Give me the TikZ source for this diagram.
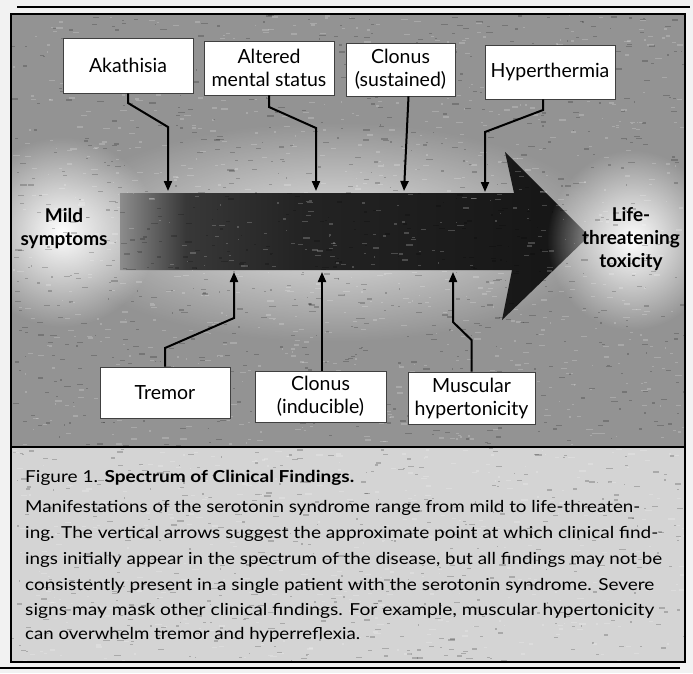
\documentclass[tikz,border=0pt]{standalone}
\usepackage{graphicx}
\usepackage{fontspec}
\setmainfont{Lato}
\usetikzlibrary{arrows.meta,fadings,shadings}
\definecolor{pagebg}{HTML}{F2F2F2}
\definecolor{panelgray}{HTML}{939393}
\definecolor{capgray}{HTML}{D4D4D4}
\tikzfading[name=myglow, inner color=transparent!0, outer color=transparent!100]
\pgfdeclarehorizontalshading{bigarrowshade}{100bp}{color(0bp)=(black!45); color(25bp)=(black!45); color(32bp)=(black!78); color(44bp)=(black!86); color(75bp)=(black!92); color(100bp)=(black!92)}
\newcommand{\capfit}[2]{\resizebox{#1}{\height}{#2}}
\begin{document}
\begin{tikzpicture}[x=1pt,y=-1pt,
  lbl/.style={draw=black!75, line width=0.7pt, fill=white, align=center, inner sep=0pt,
    font=\fontsize{19.5}{23}\selectfont},
  conn/.style={line width=2pt, -{Triangle[length=10pt,width=8pt]}},
  endlbl/.style={align=center, font=\bfseries\fontsize{19}{23}\selectfont},
  capline/.style={anchor=base west, inner sep=0pt, font=\fontsize{16.5}{20}\selectfont},
  glow/.style={fill=white, path fading=myglow},
]
\useasboundingbox (0,0) rectangle (693,673);
% page, panel, caption backgrounds
\fill[pagebg] (0,0) rectangle (693,673);
\fill[panelgray] (11,14) rectangle (685,447);
\fill[capgray] (11,447) rectangle (685,662);
% glows
\begin{scope}
\clip (11,14) rectangle (685,447);
\fill[glow, fill opacity=0.75] (330,232) ellipse [x radius=280, y radius=110];
\fill[glow] (62,232) ellipse [x radius=95, y radius=95];
\end{scope}
% big arrow
\shade[shading=bigarrowshade] (120,193) -- (514,193) -- (505,152) -- (589,236) -- (502,320) -- (512,270) -- (120,270) -- cycle;
\begin{scope}
\clip (11,14) rectangle (685,447);
\fill[glow] (632,240) ellipse [x radius=85, y radius=90];
\end{scope}
% scan texture
\begin{scope}
\clip (11,14) rectangle (685,662);
\pgfmathsetseed{7}
\foreach \i in {1,...,1400}{
  \pgfmathsetmacro{\xx}{12+672*rnd}
  \pgfmathsetmacro{\yy}{14+648*rnd}
  \pgfmathsetmacro{\ww}{1+6*rnd}
  \fill[black, opacity=0.2] (\xx,\yy) rectangle ++(\ww,1.3);
}
\foreach \i in {1,...,1400}{
  \pgfmathsetmacro{\xx}{12+672*rnd}
  \pgfmathsetmacro{\yy}{14+648*rnd}
  \pgfmathsetmacro{\ww}{1+6*rnd}
  \fill[white, opacity=0.2] (\xx,\yy) rectangle ++(\ww,1.3);
}
\end{scope}
% rules and frame
\draw[line width=2pt] (17,7) -- (690,7);
\draw[line width=1.8pt] (11,14) rectangle (685,662);
\draw[line width=1.8pt] (11,447) -- (685,447);
\draw[line width=2pt] (0,668) -- (680,668);
% end labels
\node[endlbl] (mild) at (64,229) {Mild\\symptoms};
\node[endlbl] (life) at (631,239) {Life-\\threatening\\toxicity};
% finding boxes
\node[lbl, minimum width=130pt, minimum height=55pt] (akat) at (128,65.5) {Akathisia};
\node[lbl, minimum width=130pt, minimum height=54pt] (alt) at (269,68) {Altered\\mental status};
\node[lbl, minimum width=109pt, minimum height=53pt] (clos) at (400.5,69.5) {Clonus\\(sustained)};
\node[lbl, minimum width=130pt, minimum height=54pt] (hyp) at (550,72) {Hyperthermia};
\node[lbl, minimum width=130pt, minimum height=51pt] (trem) at (165,392.5) {Tremor};
\node[lbl, minimum width=131pt, minimum height=51pt] (cloi) at (320.5,396.5) {Clonus\\(inducible)};
\node[lbl, minimum width=127pt, minimum height=52pt] (musc) at (471.5,398) {Muscular\\hypertonicity};
% arrow tips on the spectrum arrow
\coordinate (t1) at (168,191);
\coordinate (t2) at (316,191);
\coordinate (t3) at (404,191);
\coordinate (t4) at (485,192);
\coordinate (b1) at (234,272);
\coordinate (b2) at (322,272);
\coordinate (b3) at (453,272);
% connectors
\draw[conn] (akat.south) -- (128,103) -- (168,127) -- (t1);
\draw[conn] (alt.south) -- (269,107) -- (316,128) -- (t2);
\draw[conn] ([xshift=8pt]clos.south) -- (t3);
\draw[conn] ([xshift=-7pt]hyp.south) -- (543,110) -- (485,132) -- (t4);
\draw[conn] (trem.north) -- (165,348) -- (234,318) -- (b1);
\draw[conn] ([xshift=1.5pt]cloi.north) -- (b2);
\draw[conn] (musc.north) -- (471.5,340) -- (453,322) -- (b3);
% caption
\node[capline] (c1) at (25,482) {\capfit{329pt}{Figure 1. \textbf{Spectrum of Clinical Findings.}}};
\node[capline] (c2) at (25,512) {\capfit{615pt}{Manifestations of the serotonin syndrome range from mild to life-threaten-}};
\node[capline] (c3) at (25,538) {\capfit{633pt}{ing. The vertical arrows suggest the approximate point at which clinical find-}};
\node[capline] (c4) at (25,564) {\capfit{637pt}{ings initially appear in the spectrum of the disease, but all findings may not be}};
\node[capline] (c5) at (25,590) {\capfit{629pt}{consistently present in a single patient with the serotonin syndrome. Severe}};
\node[capline] (c6) at (25,615) {\capfit{629pt}{signs may mask other clinical findings. For example, muscular hypertonicity}};
\node[capline] (c7) at (25,639) {\capfit{335pt}{can overwhelm tremor and hyperreflexia.}};
\end{tikzpicture}
\end{document}
